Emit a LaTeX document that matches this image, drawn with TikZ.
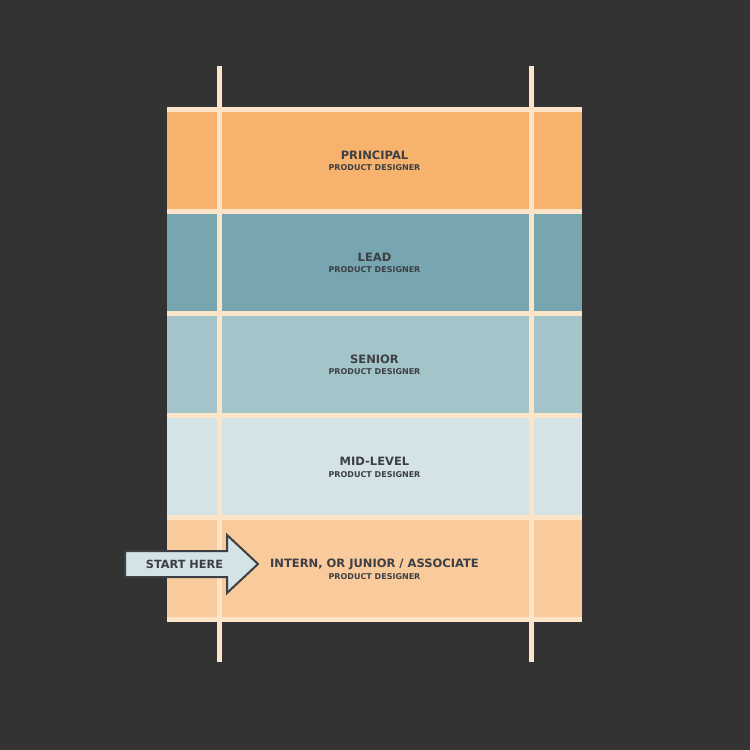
\documentclass[tikz,border=0pt]{standalone}
\usepackage{fontspec}
\setmainfont{DejaVu Sans}
\definecolor{bg}{HTML}{333333}
\definecolor{cPrin}{HTML}{F7B36E}
\definecolor{cLead}{HTML}{77A5B0}
\definecolor{cSen}{HTML}{A3C4C8}
\definecolor{cMid}{HTML}{D4E3E6}
\definecolor{cInt}{HTML}{F9CB9C}
\definecolor{cLine}{HTML}{FCE4C9}
\definecolor{cText}{HTML}{3C3F44}
\definecolor{cArrow}{HTML}{D4E3E6}
\begin{document}
\begin{tikzpicture}[x=1pt,y=-1pt,
  gridline/.style={draw=cLine,line width=5pt},
  title/.style={font=\bfseries\fontsize{11.5}{11.5}\selectfont,text=cText,inner sep=0pt,anchor=base},
  sub/.style={font=\bfseries\fontsize{8}{8}\selectfont,text=cText,inner sep=0pt,anchor=base}]
\useasboundingbox (0,0) rectangle (750,750);
\fill[bg] (0,0) rectangle (750,750);
% rows
\fill[cPrin] (167,109.5) rectangle (582,211.5);
\fill[cLead] (167,211.5) rectangle (582,313.5);
\fill[cSen] (167,313.5) rectangle (582,415.5);
\fill[cMid] (167,415.5) rectangle (582,517.5);
\fill[cInt] (167,517.5) rectangle (582,619.5);
% horizontal lines
\foreach \y in {109.5,211.5,313.5,415.5,517.5,619.5}
  \draw[gridline] (167,\y) -- (582,\y);
% vertical lines
\coordinate (v1t) at (219.5,66);
\coordinate (v1b) at (219.5,662);
\coordinate (v2t) at (531.5,66);
\coordinate (v2b) at (531.5,662);
\draw[gridline] (v1t) -- (v1b);
\draw[gridline] (v2t) -- (v2b);
% labels
\node[title] (tP) at (374.5,159) {PRINCIPAL};
\node[sub] (sP) at (374.5,170.5) {PRODUCT DESIGNER};
\node[title] (tL) at (374.5,261) {LEAD};
\node[sub] (sL) at (374.5,272.5) {PRODUCT DESIGNER};
\node[title] (tS) at (374.5,363) {SENIOR};
\node[sub] (sS) at (374.5,374.5) {PRODUCT DESIGNER};
\node[title] (tM) at (374.5,465.5) {MID-LEVEL};
\node[sub] (sM) at (374.5,477) {PRODUCT DESIGNER};
\node[title] (tI) at (374.5,567.5) {INTERN, OR JUNIOR / ASSOCIATE};
\node[sub] (sI) at (374.5,579) {PRODUCT DESIGNER};
% arrow
\draw[fill=cArrow,draw=cText,line width=2pt,line join=miter]
  (125,551) -- (227,551) -- (227,535) -- (258,564) -- (227,593) -- (227,577) -- (125,577) -- cycle;
\node[title,font=\bfseries\fontsize{11.3}{11.3}\selectfont] (start) at (184.5,568.5) {START HERE};
\end{tikzpicture}
\end{document}
